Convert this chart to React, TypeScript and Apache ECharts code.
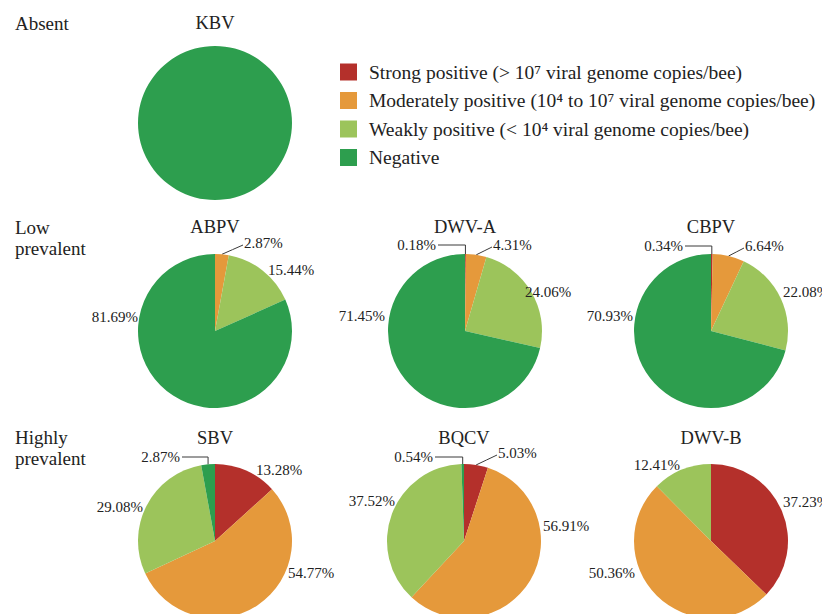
import React, { useEffect, useRef } from "react";
import * as echarts from "echarts";

// ---------- data ----------
const CATEGORIES = [
  "Strong positive (> 10\u2077 viral genome copies/bee)",
  "Moderately positive (10\u2074 to 10\u2077 viral genome copies/bee)",
  "Weakly positive (< 10\u2074 viral genome copies/bee)",
  "Negative",
];
const VIRUSES = ["KBV", "ABPV", "DWV-A", "CBPV", "SBV", "BQCV", "DWV-B"];
const KBV = [0, 0, 0, 100];
const ABPV = [0, 2.87, 15.44, 81.69];
const DWV_A = [0.18, 4.31, 24.06, 71.45];
const CBPV = [0.34, 6.64, 22.08, 70.93];
const SBV = [13.28, 54.77, 29.08, 2.87];
const BQCV = [5.03, 56.91, 37.52, 0.54];
const DWV_B = [37.23, 50.36, 12.41, 0];
const VALUES = [KBV, ABPV, DWV_A, CBPV, SBV, BQCV, DWV_B];
const ROW_LABELS = ["Absent", "Low\nprevalent", "Highly\nprevalent"];

// ---------- layout / style ----------
const COLORS = ["#B4302B", "#E5993B", "#9CC45B", "#2D9E4E"];
const FONT = "Liberation Serif";
const TEXT_COLOR = "#222222";
const R = 77;
const CENTERS: number[][] = [
  [215, 123],
  [215, 331],
  [465, 331],
  [711, 331],
  [215, 541],
  [464, 541],
  [711, 541],
];
const TITLE_Y = [23, 227, 227, 227, 438, 438, 438];
const ROW_LABEL_Y = [23, 238, 448];
// label anchors per pie, per category: [dx, dy, align, leaderType]
type Anchor = [number, number, string, string] | null;
const ANCHORS: Anchor[][] = [
  [null, null, null, null],
  [null, [29, -88, "left", "straight"], [53, -61, "left", ""], [-77, -14, "right", ""]],
  [[-29, -86, "right", "elbow"], [28, -86, "left", "straight"], [60, -39, "left", ""], [-80, -15, "right", ""]],
  [[-28, -85, "right", "elbow"], [34, -85, "left", "straight"], [72, -39, "left", ""], [-78, -15, "right", ""]],
  [[41, -71, "left", ""], [73, 32, "left", ""], [-72, -34, "right", ""], [-35, -84, "right", "elbow"]],
  [[34, -88, "left", "straight"], [79, -15, "left", ""], [-69, -40, "right", ""], [-31, -84, "right", "elbow"]],
  [[72, -39, "left", ""], [-76, 32, "right", ""], [-31, -76, "right", ""], null],
];

function midAngle(vals: number[], idx: number): number {
  const total = vals.reduce((a, b) => a + b, 0);
  let start = 0;
  for (let i = 0; i < idx; i++) start += vals[i];
  const mid = start + vals[idx] / 2;
  return (mid / total) * Math.PI * 2;
}

export default function App() {
  const ref = useRef<HTMLDivElement>(null);
  useEffect(() => {
    if (!ref.current) return;
    const chart = echarts.init(ref.current, undefined, { renderer: "svg" });

    const series = VALUES.map((vals, si) => {
      const [cx, cy] = CENTERS[si];
      const anchors = ANCHORS[si];
      return {
        type: "pie",
        name: VIRUSES[si],
        center: [cx, cy],
        radius: R,
        startAngle: 90,
        clockwise: true,
        avoidLabelOverlap: false,
        silent: true,
        itemStyle: { borderWidth: 0 },
        label: {
          show: true,
          position: "outside",
          fontFamily: FONT,
          fontSize: 15,
          color: TEXT_COLOR,
          formatter: (p: any) => `${Number(p.value).toFixed(2)}%`,
        },
        labelLine: {
          show: false,
          lineStyle: { color: "#3a3a3a", width: 1 },
        },
        labelLayout: (p: any) => {
          const a = anchors[p.dataIndex];
          if (!a) return {};
          const [dx, dy, align, line] = a;
          const x = cx + dx;
          const y = cy + dy;
          const res: any = { x, y, align, verticalAlign: "middle" };
          if (line) {
            const th = midAngle(vals, p.dataIndex);
            const px = cx + R * Math.sin(th);
            const py = cy - R * Math.cos(th);
            if (line === "straight") {
              res.labelLinePoints = [
                [px, py],
                [(px + x - 1) / 2, (py + y + 2) / 2],
                [x - 1, y + 2],
              ];
            } else {
              res.labelLinePoints = [
                [x + 2, y],
                [px, y],
                [px, py],
              ];
            }
          }
          return res;
        },
        data: vals.map((v, ci) => {
          const a = anchors[ci];
          return {
            name: CATEGORIES[ci],
            value: v,
            itemStyle: { color: COLORS[ci] },
            label: { show: !!a && v > 0 },
            labelLine: { show: !!a && !!a[3] },
          };
        }),
      };
    });

    const graphics: any[] = [];
    VIRUSES.forEach((name, i) => {
      graphics.push({
        type: "text",
        x: CENTERS[i][0],
        y: TITLE_Y[i],
        silent: true,
        style: {
          text: name,
          fontFamily: FONT,
          fontSize: 18.5,
          fill: TEXT_COLOR,
          align: "center",
          verticalAlign: "middle",
          textAlign: "center",
          textVerticalAlign: "middle",
        },
      });
    });
    ROW_LABELS.forEach((t, i) => {
      graphics.push({
        type: "text",
        x: 15,
        y: ROW_LABEL_Y[i],
        silent: true,
        style: {
          text: t,
          fontFamily: FONT,
          fontSize: 19,
          lineHeight: 21,
          fill: TEXT_COLOR,
          align: "left",
          verticalAlign: "middle",
          textAlign: "left",
          textVerticalAlign: "middle",
        },
      });
    });

    chart.setOption({
      animation: false,
      backgroundColor: "#ffffff",
      legend: {
        orient: "vertical",
        left: 340,
        top: 62,
        padding: 0,
        itemWidth: 17,
        itemHeight: 17,
        itemGap: 8.5,
        icon: "rect",
        selectedMode: false,
        data: CATEGORIES,
        textStyle: {
          fontFamily: FONT,
          fontSize: 19.5,
          lineHeight: 17,
          color: TEXT_COLOR,
          padding: [0, 0, 0, 7],
        },
      },
      graphic: graphics,
      series,
    });

    return () => chart.dispose();
  }, []);

  return (
    <div
      ref={ref}
      style={{ position: "fixed", left: 0, top: 0, width: 822, height: 614 }}
    />
  );
}
